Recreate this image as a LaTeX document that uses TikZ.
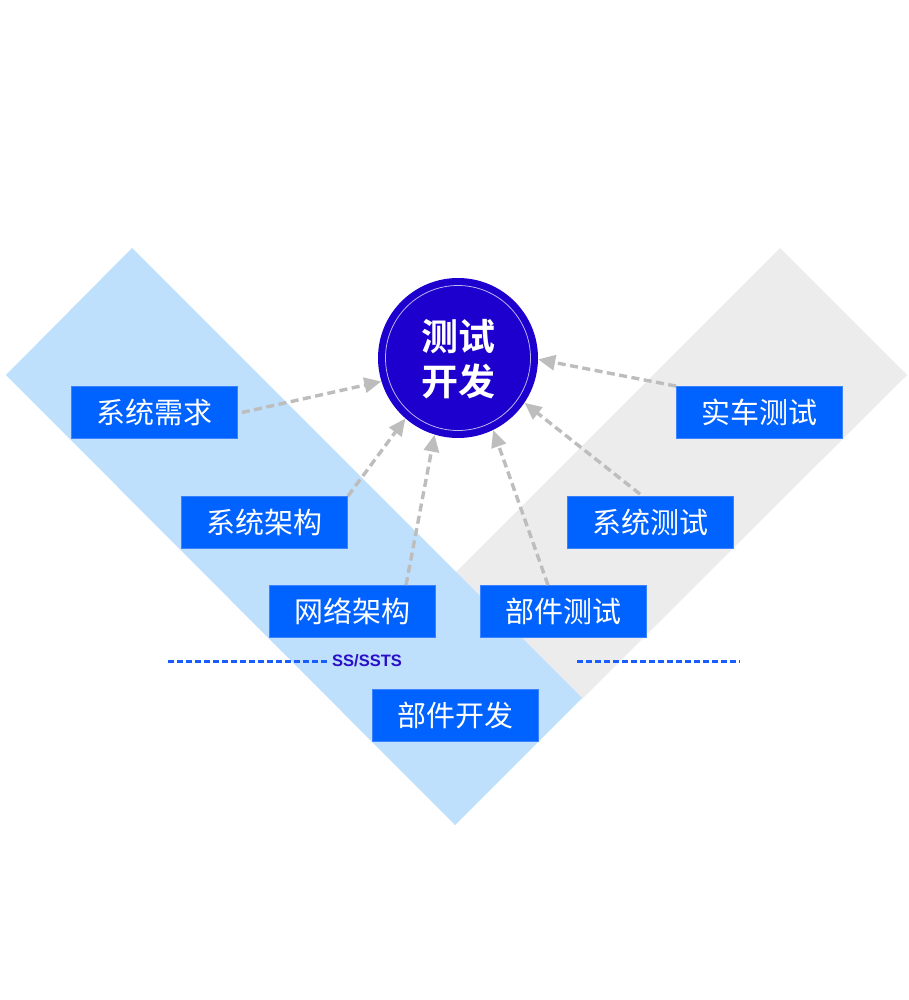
\documentclass[tikz,border=0pt]{standalone}
\usepackage{fontspec}
\newfontfamily\cjk{Noto Sans CJK SC}
\newfontfamily\cjkbold{Noto Sans CJK SC Bold}
\newfontfamily\latinb{Liberation Sans}
\usetikzlibrary{arrows.meta,calc}
\definecolor{bandblue}{HTML}{BEE0FC}
\definecolor{bandgray}{HTML}{ECECEC}
\definecolor{boxblue}{HTML}{0062FF}
\definecolor{boxedge}{HTML}{3A82FF}
\definecolor{circblue}{HTML}{1D00CD}
\definecolor{arrgray}{HTML}{BDBDBD}
\definecolor{dashblue}{HTML}{1A5DFF}
\definecolor{labblue}{HTML}{2A0FC9}
\tikzset{
  stagebox/.style={fill=boxblue,draw=boxedge,line width=0.8pt,minimum width=166pt,minimum height=52pt,inner sep=0pt,text=white,font=\cjk\fontsize{29}{32}\selectfont},
  linkarrow/.style={draw=arrgray,line width=3.4pt,dash pattern=on 8pt off 4.5pt,-{Triangle[length=17pt,width=15pt]}},
  levelline/.style={draw=dashblue,line width=3pt,dash pattern=on 6pt off 3pt}
}
\begin{document}
\begin{tikzpicture}[x=1pt,y=-1pt]
\useasboundingbox (0,0) rectangle (908,1000);
\fill[white] (0,0) rectangle (908,1000);
% bands
\fill[bandgray] (780,248) -- (907,375) -- (582,699) -- (455,573) -- cycle;
\fill[bandblue] (132,248) -- (582,698) -- (455,825) -- (6,375) -- cycle;
% level lines
\coordinate (l1) at (168,661);
\coordinate (l2) at (329,661);
\coordinate (r1) at (577,661);
\coordinate (r2) at (740,661);
\draw[levelline] (l1) -- (l2);
\draw[levelline] (r1) -- (r2);
\node[anchor=west,inner sep=0pt,text=labblue,font=\latinb\bfseries\fontsize{16.5}{18}\selectfont] (ss) at (332,661) {SS/SSTS};
% circle
\node[circle,fill=circblue,minimum size=160pt,inner sep=0pt] (c) at (458,358) {};
\draw[white!70!circblue,line width=0.8pt] (c.center) circle[radius=72.5pt];
\node[text=white,font=\cjkbold\fontsize{37}{45}\selectfont,align=center,inner sep=0pt] (ct) at (458,359) {测试\\开发};
% boxes
\node[stagebox] (b1) at (154.5,412.5) {系统需求};
\node[stagebox] (b2) at (264.5,522.5) {系统架构};
\node[stagebox] (b3) at (352.5,611.5) {网络架构};
\node[stagebox] (b4) at (563.5,611.5) {部件测试};
\node[stagebox] (b5) at (650.5,522.5) {系统测试};
\node[stagebox] (b6) at (759.5,412.5) {实车测试};
\node[stagebox] (b7) at (455.5,715.5) {部件开发};
% arrows
\draw[linkarrow] ([xshift=4pt]b1.east) -- (c.197);
\draw[linkarrow] (b2.north east) -- (c.229);
\draw[linkarrow] ([xshift=53.5pt]b3.north) -- (c.253);
\draw[linkarrow] ([xshift=-15.5pt]b4.north) -- (c.296);
\draw[linkarrow] ([xshift=-10.5pt,yshift=2pt]b5.north) -- (c.326);
\draw[linkarrow] (b6.north west) -- (c.359);
\end{tikzpicture}
\end{document}
